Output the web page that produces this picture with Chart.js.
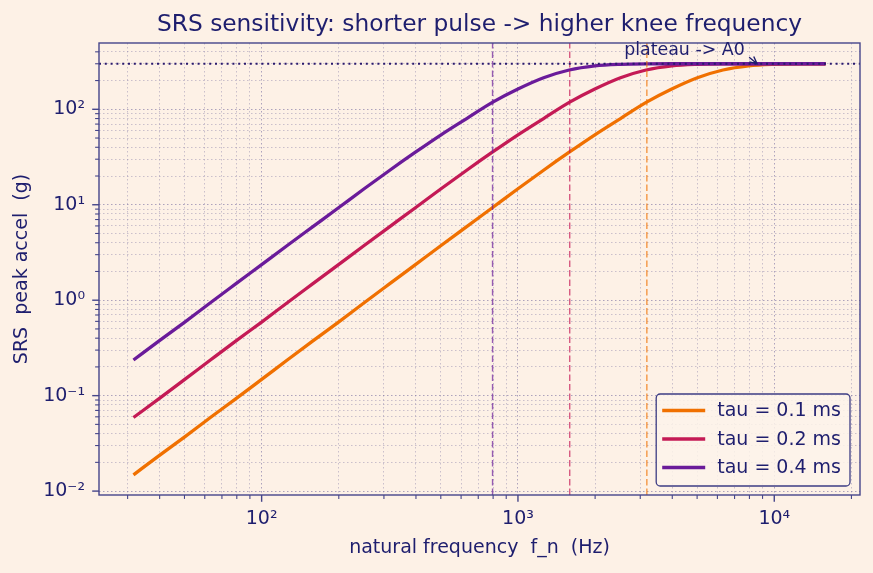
<!DOCTYPE html>
<html>
<head>
<meta charset="utf-8">
<script src="https://cdn.jsdelivr.net/npm/chart.js@4/dist/chart.umd.min.js"></script>
<style>
  html, body { margin: 0; padding: 0; background: #fdf1e6; }
  canvas { display: block; }
</style>
</head>
<body>
<canvas id="srsChart" width="873" height="573"></canvas>
<script>
// natural frequency samples (Hz)
const freqHz = [31.62, 39.81, 50.12, 63.1, 79.43, 100, 125.9, 158.5, 199.5, 251.2, 316.2, 398.1, 501.2, 631, 794.3,
  1000, 1258.9, 1584.9, 1995.3, 2511.9, 3162.3, 3981.1, 5011.9, 6309.6, 7943.3, 10000, 12589, 15849];

// SRS peak accel (g)
const srsTau01 = [0.0148, 0.0235, 0.037, 0.059, 0.093, 0.148, 0.236, 0.375, 0.59, 0.94, 1.49, 2.36, 3.74, 5.9, 9.3,
  14.7, 23, 35.5, 54, 80, 118, 163, 214, 258, 285, 296, 299.5, 300];
const srsTau02 = [0.059, 0.093, 0.148, 0.236, 0.375, 0.59, 0.94, 1.49, 2.36, 3.74, 5.9, 9.3, 14.7, 23, 35.5,
  54, 80, 118, 163, 214, 258, 285, 296, 299.5, 300, 300, 300, 300];
const srsTau04 = [0.236, 0.375, 0.59, 0.94, 1.49, 2.36, 3.74, 5.9, 9.3, 14.7, 23, 35.5, 54, 80, 118,
  163, 214, 258, 285, 296, 299.5, 300, 300, 300, 300, 300, 300, 300];

const seriesLabels = ['tau = 0.1 ms', 'tau = 0.2 ms', 'tau = 0.4 ms'];
const kneeHz = [3183, 1592, 796];   // same order as seriesLabels
const plateauA0 = 300;
const annotText = 'plateau -> A0';

const X_MIN = 23.2, X_MAX = 21600;
const Y_MIN = 0.0091, Y_MAX = 495;

const BG = '#fdf1e6';
const NAVY = '#1e1e6e';
const SPINE = '#45458a';
const FONT = '"DejaVu Sans", "Liberation Sans", sans-serif';
const colors = ['#f07000', '#c41a55', '#6a1b9a'];
const kneeColors = ['rgba(240,112,0,0.7)', 'rgba(196,26,85,0.7)', 'rgba(106,27,154,0.7)'];

const SUP = { '0': '\u2070', '1': '\u00b9', '2': '\u00b2', '3': '\u00b3', '4': '\u2074', '5': '\u2075',
  '6': '\u2076', '7': '\u2077', '8': '\u2078', '9': '\u2079', '-': '\u207b' };

function isPow10(v) {
  const l = Math.log10(v);
  return Math.abs(l - Math.round(l)) < 1e-9;
}
function powLabel(v) {
  const e = String(Math.round(Math.log10(v)));
  return '10' + e.split('').map(c => SUP[c]).join('');
}
function logTicks(min, max) {
  const out = [];
  for (let e = Math.floor(Math.log10(min)); e <= Math.ceil(Math.log10(max)); e++) {
    for (let m = 1; m <= 9; m++) {
      const v = parseFloat((m * Math.pow(10, e)).toPrecision(6));
      if (v >= min && v <= max) out.push({ value: v, major: m === 1 });
    }
  }
  return out;
}

function pts(ys) {
  return freqHz.map((f, i) => ({ x: f, y: ys[i] }));
}

const datasets = [];
// plateau reference line
datasets.push({
  label: 'A0', data: [{ x: X_MIN, y: plateauA0 }, { x: X_MAX, y: plateauA0 }],
  borderColor: '#2a1a6e', borderWidth: 2, borderDash: [2, 3.8], pointRadius: 0
});
// knee frequency markers
kneeHz.forEach((k, i) => {
  datasets.push({
    label: 'knee' + i, data: [{ x: k, y: Y_MIN }, { x: k, y: Y_MAX }],
    borderColor: kneeColors[i], borderWidth: 1.4, borderDash: [6.5, 3], pointRadius: 0
  });
});
// curves: purple drawn on top -> earlier index
const curveData = [srsTau01, srsTau02, srsTau04];
[2, 1, 0].forEach(i => {
  datasets.push({
    label: seriesLabels[i], data: pts(curveData[i]),
    borderColor: colors[i], borderWidth: 3.3, pointRadius: 0,
    cubicInterpolationMode: 'monotone', isCurve: true, legendIndex: i
  });
});

const bgPlugin = {
  id: 'bg',
  beforeDraw(chart) {
    const ctx = chart.ctx;
    ctx.save();
    ctx.fillStyle = BG;
    ctx.fillRect(0, 0, chart.width, chart.height);
    ctx.restore();
  }
};

const decorPlugin = {
  id: 'decor',
  afterDraw(chart) {
    const { ctx, chartArea: a } = chart;
    const xs = chart.scales.x, ys = chart.scales.y;
    ctx.save();

    // frame
    ctx.strokeStyle = SPINE;
    ctx.lineWidth = 1.4;
    ctx.strokeRect(a.left, a.top, a.right - a.left, a.bottom - a.top);

    // tick marks
    ctx.strokeStyle = SPINE;
    xs.ticks.forEach(t => {
      const px = xs.getPixelForValue(t.value);
      const len = t.major ? 6.8 : 3.9;
      ctx.lineWidth = t.major ? 1.4 : 1.1;
      ctx.beginPath();
      ctx.moveTo(px, a.bottom);
      ctx.lineTo(px, a.bottom + len);
      ctx.stroke();
    });
    ys.ticks.forEach(t => {
      const py = ys.getPixelForValue(t.value);
      const len = t.major ? 6.8 : 3.9;
      ctx.lineWidth = t.major ? 1.4 : 1.1;
      ctx.beginPath();
      ctx.moveTo(a.left, py);
      ctx.lineTo(a.left - len, py);
      ctx.stroke();
    });

    // title
    ctx.fillStyle = NAVY;
    ctx.font = '23.3px ' + FONT;
    ctx.textAlign = 'center';
    ctx.textBaseline = 'alphabetic';
    ctx.fillText('SRS sensitivity: shorter pulse -> higher knee frequency', (a.left + a.right) / 2, 31);

    // annotation
    ctx.font = '17.4px ' + FONT;
    ctx.textAlign = 'left';
    ctx.fillText(annotText, xs.getPixelForValue(2596), ys.getPixelForValue(368));
    const x0 = xs.getPixelForValue(7980), y0 = ys.getPixelForValue(351);
    const x1 = xs.getPixelForValue(8570), y1 = ys.getPixelForValue(plateauA0);
    ctx.strokeStyle = NAVY;
    ctx.lineWidth = 1.4;
    ctx.beginPath();
    ctx.moveTo(x0, y0);
    ctx.lineTo(x1, y1);
    const ang = Math.atan2(y1 - y0, x1 - x0);
    ctx.moveTo(x1 - 8 * Math.cos(ang - 0.45), y1 - 8 * Math.sin(ang - 0.45));
    ctx.lineTo(x1, y1);
    ctx.lineTo(x1 - 8 * Math.cos(ang + 0.45), y1 - 8 * Math.sin(ang + 0.45));
    ctx.stroke();

    // legend box, lower right
    const items = chart.data.datasets.filter(d => d.isCurve).sort((p, q) => p.legendIndex - q.legendIndex);
    ctx.font = '19px ' + FONT;
    const tw = Math.max(...items.map(d => ctx.measureText(d.label).width));
    const padL = 6, handle = 43, gap = 12, padR = 9, rowH = 28.5;
    const w = padL + handle + gap + tw + padR, h = 92;
    const bx = a.right - 10 - w, by = a.bottom - 9 - h;
    ctx.fillStyle = 'rgba(253,243,234,0.85)';
    ctx.strokeStyle = '#3c3c84';
    ctx.lineWidth = 1.3;
    ctx.beginPath();
    ctx.roundRect(bx, by, w, h, 4);
    ctx.fill();
    ctx.stroke();
    items.forEach((d, i) => {
      const cy = by + 16.5 + i * rowH;
      ctx.strokeStyle = d.borderColor;
      ctx.lineWidth = 3.3;
      ctx.beginPath();
      ctx.moveTo(bx + padL, cy);
      ctx.lineTo(bx + padL + handle, cy);
      ctx.stroke();
      ctx.fillStyle = NAVY;
      ctx.textAlign = 'left';
      ctx.textBaseline = 'middle';
      ctx.fillText(d.label, bx + padL + handle + gap, cy + 1);
    });
    ctx.restore();
  }
};

function gridColor(ctx) {
  const t = ctx.tick;
  return t && t.major ? 'rgba(120,110,160,0.6)' : 'rgba(140,130,170,0.45)';
}

new Chart(document.getElementById('srsChart'), {
  type: 'line',
  data: { datasets: datasets },
  options: {
    responsive: false,
    animation: false,
    devicePixelRatio: 1,
    layout: { padding: { top: 43, right: 13, left: 0, bottom: 0 } },
    plugins: { legend: { display: false }, title: { display: false }, tooltip: { enabled: false } },
    scales: {
      x: {
        type: 'logarithmic', min: X_MIN, max: X_MAX,
        afterBuildTicks(s) { s.ticks = logTicks(X_MIN, X_MAX); },
        afterFit(s) { s.height = 78; },
        ticks: {
          autoSkip: false, maxRotation: 0, minRotation: 0, padding: 13, color: NAVY,
          font: { family: FONT, size: 19 },
          callback: v => isPow10(v) ? powLabel(v) : ''
        },
        grid: { drawTicks: false, color: gridColor, lineWidth: 1 },
        border: { display: false, dash: [1.5, 2.5] },
        title: {
          display: true, text: 'natural frequency  f_n  (Hz)', color: NAVY,
          font: { family: FONT, size: 19 }, padding: { top: 0, bottom: 13.6 }
        }
      },
      y: {
        type: 'logarithmic', min: Y_MIN, max: Y_MAX,
        afterBuildTicks(s) { s.ticks = logTicks(Y_MIN, Y_MAX); },
        afterFit(s) { s.width = 99; },
        ticks: {
          autoSkip: false, padding: 14, color: NAVY,
          font: { family: FONT, size: 19 },
          callback: v => isPow10(v) ? powLabel(v) : ''
        },
        grid: { drawTicks: false, color: gridColor, lineWidth: 1 },
        border: { display: false, dash: [1.5, 2.5] },
        title: {
          display: true, text: 'SRS  peak accel  (g)', color: NAVY,
          font: { family: FONT, size: 19 }, padding: { top: 10.6, bottom: 0 }
        }
      }
    }
  },
  plugins: [bgPlugin, decorPlugin]
});
</script>
</body>
</html>
